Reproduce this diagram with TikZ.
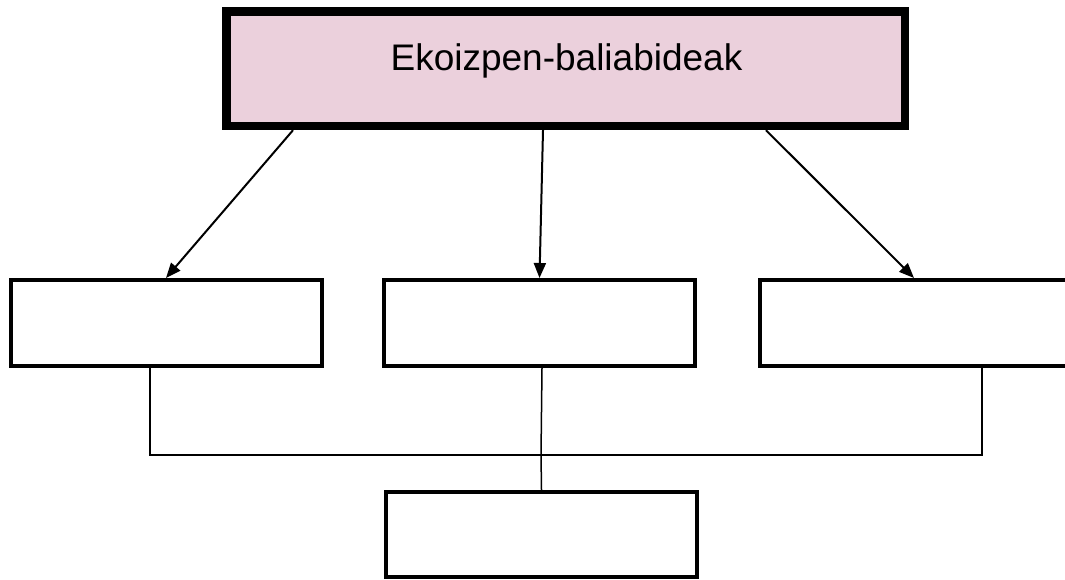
\documentclass[tikz,border=0pt]{standalone}
\usepackage{fontspec}
\setmainfont{Liberation Sans}
\usetikzlibrary{arrows.meta,positioning}

\begin{document}
\begin{tikzpicture}[x=1pt,y=-1pt,->,>={Triangle[length=15pt,width=12pt]},
                    semithick]
  \tikzstyle{topbox}=[rectangle,draw,line width=8.4pt,fill={rgb,255:red,235;green,208;blue,220},
                      inner sep=0pt,minimum width=678.5pt,minimum height=114.5pt]
  \tikzstyle{box}=[rectangle,draw,line width=4pt,fill=white,inner sep=0pt,
                   minimum width=311pt,minimum height=86pt]
  \tikzstyle{arr}=[line width=2pt]
  \tikzstyle{link}=[-,line width=1.5pt]

  \useasboundingbox (0,0) rectangle (1065,579);

  \node[topbox]         (T) at (565.75,68.75) {};
  \node[anchor=base]    (t) at (566.5,70) {\fontsize{37}{44}\selectfont Ekoizpen-baliabideak};
  \node[box]            (L) at (166,323) {};
  \node[box]            (M) at (539.5,323) {};
  \node[box,minimum width=314pt] (R) at (917,323) {};
  \node[box,minimum height=85pt] (S) at (541.5,534.5) {};
  \coordinate           (bus) at (541,455);

  \path (T.south) ++(-272.75,0) coordinate (t1)
        (T.south) ++(-22.75,0) coordinate (t2)
        (T.south) ++(200.25,0) coordinate (t3);

  \draw[arr] (t1) -- (L.north);
  \draw[arr] (t2) -- (M.north);
  \draw[arr] (t3) -- ([xshift=-3pt]R.north);

  \draw[link] ([xshift=-16pt]L.south) |- (bus) -| ([xshift=65pt]R.south);
  \draw[link] ([xshift=2.5pt]M.south) -- (bus) -- (S.north);
\end{tikzpicture}
\end{document}
